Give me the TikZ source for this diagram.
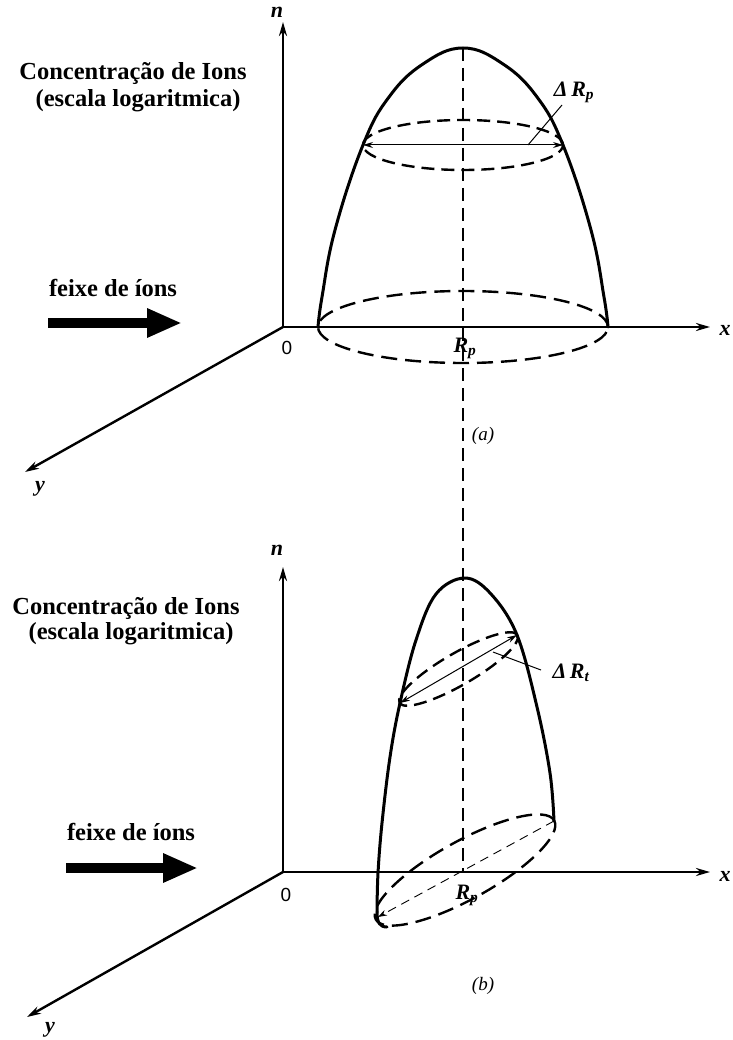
\documentclass[tikz,border=0pt]{standalone}
\usepackage{fontspec}
\setmainfont{Liberation Serif}
\newfontfamily\labsans{Liberation Sans}
\usetikzlibrary{arrows.meta}
\tikzset{
  axis/.style={line width=2.8pt, -{Stealth[length=14pt,width=8pt]}},
  yaxis/.style={line width=2.4pt, -{Stealth[length=14pt,width=8pt]}},
  outline/.style={line width=3pt, line cap=round, line join=round},
  dashell/.style={line width=2.4pt, dash pattern=on 16pt off 8pt},
  dashellsmall/.style={line width=2.4pt, dash pattern=on 13pt off 7pt},
  centerline/.style={line width=1.1pt, dash pattern=on 13pt off 7pt},
  thinarrow/.style={line width=1pt, {Stealth[length=10pt,width=6pt]}-{Stealth[length=10pt,width=6pt]}},
  leader/.style={line width=1pt},
  bigtext/.style={font=\fontsize{24.5}{28}\selectfont\bfseries, inner sep=0pt, align=center},
  axlabel/.style={font=\fontsize{22}{24}\selectfont\bfseries\itshape, inner sep=0pt},
  zerolabel/.style={font=\fontsize{19}{22}\selectfont\labsans, inner sep=0pt},
  caplabel/.style={font=\fontsize{19}{22}\selectfont\itshape, inner sep=0pt},
  beam/.style={line width=10pt, -{Triangle[length=35pt,width=27pt]}}
}
\begin{document}
\begin{tikzpicture}[x=1pt,y=-1pt]
\useasboundingbox (0,0) rectangle (732,1040);
\fill[white] (0,0) rectangle (732,1040);

% ---------- common dashed centre line ----------
\coordinate (topA) at (463,48);
\coordinate (baseB) at (463,872);
\draw[centerline] (topA) -- (baseB);

% =================== (a) ===================
\coordinate (OA) at (283,327);
\coordinate (nA) at (283,22);
\coordinate (xA) at (710,327);
\coordinate (yA) at (25,472);
\draw[axis] (OA) -- (nA);
\draw[axis] (OA) -- (xA);
\draw[yaxis] (OA) -- (yA);
\node[axlabel] (nlabA) at (277,12) {n};
\node[axlabel] (xlabA) at (725,330) {x};
\node[axlabel] (ylabA) at (40,489) {y};
\node[zerolabel] (zeroA) at (287,348) {0};

\node[bigtext] (concA) at (133,73) {Concentração de Ions};
\node[bigtext] (escA) at (138,101) {(escala logaritmica)};
\node[bigtext] (feixeA) at (113,288) {feixe de íons};
\coordinate (bsA) at (48,323);
\coordinate (beA) at (182,323);
\draw[beam] (bsA) -- (beA);

% ellipses
\node[draw=none, inner sep=0pt] (ellA1) at (463,145) {};
\draw[dashellsmall] (ellA1.center) ellipse [x radius=100pt, y radius=25pt];
\node[draw=none, inner sep=0pt] (ellA2) at (463,327) {};
\draw[dashell] (ellA2.center) ellipse [x radius=145pt, y radius=36pt];

% profile
\draw[outline] plot[smooth, tension=0.7] coordinates {(318,327) (322,297) (335,230) (363,145) (389,97) (423,64) (463,48) (503,64) (537,97) (563,145) (591,230) (604,297) (608,327)};

% Delta Rp
\coordinate (dpL) at (363,145);
\coordinate (dpR) at (563,145);
\draw[thinarrow] (dpL) -- (dpR);
\coordinate (ldA1) at (528,145);
\node[axlabel] (dRp) at (574,92) {Δ\,R\textsubscript{p}};
\draw[leader] (ldA1) -- (562,105);

\node[axlabel] (RpA) at (465,348) {R\textsubscript{p}};
\node[caplabel] (capA) at (483,436) {(a)};

% =================== (b) ===================
\coordinate (OB) at (283,872);
\coordinate (nB) at (283,567);
\coordinate (xB) at (710,872);
\coordinate (yB) at (27,1017);
\draw[axis] (OB) -- (nB);
\draw[axis] (OB) -- (xB);
\draw[yaxis] (OB) -- (yB);
\node[axlabel] (nlabB) at (277,550) {n};
\node[axlabel] (xlabB) at (725,876) {x};
\node[axlabel] (ylabB) at (50,1030) {y};
\node[zerolabel] (zeroB) at (286,895) {0};

\node[bigtext] (concB) at (126,608) {Concentração de Ions};
\node[bigtext] (escB) at (131,634) {(escala logaritmica)};
\node[bigtext] (feixeB) at (131,832) {feixe de íons};
\coordinate (bsB) at (66,868);
\coordinate (beB) at (198,868);
\draw[beam] (bsB) -- (beB);

% tilted ellipses
\node[inner sep=0pt] (ellB1) at (458.5,669) {};
\draw[dashellsmall] (ellB1.center) ellipse [x radius=68pt, y radius=16pt, rotate=30];
\node[inner sep=0pt] (ellB2) at (465,870) {};
\draw[dashell] (ellB2.center) ellipse [x radius=102pt, y radius=29pt, rotate=29];
% thin dashed major axis
\coordinate (mjR) at (554,821);
\coordinate (mjL) at (378,917);
\draw[line width=0.9pt, dash pattern=on 9pt off 6pt, -{Stealth[length=9pt,width=6pt]}] (mjR) -- (mjL);

% profile
\draw[outline] plot[smooth, tension=0.6] coordinates {(377,912) (378,873) (382,823) (390,757) (400,703) (416,640) (436,594) (465,578) (491,594) (517,635) (537,707) (550,773) (554,821)};
\draw[outline] (377,912) .. controls (377,923) and (380,927) .. (387,927);

% Delta Rt
\coordinate (dtL) at (400,703);
\coordinate (dtR) at (517,635);
\draw[thinarrow] (dtL) -- (dtR);
\coordinate (ldB1) at (493,652);
\node[axlabel] (dRt) at (571,673) {Δ\,R\textsubscript{t}};
\draw[leader] (ldB1) -- (541,670);

\node[axlabel] (RpB) at (467,895) {R\textsubscript{p}};
\node[caplabel] (capB) at (483,986) {(b)};
\end{tikzpicture}
\end{document}
